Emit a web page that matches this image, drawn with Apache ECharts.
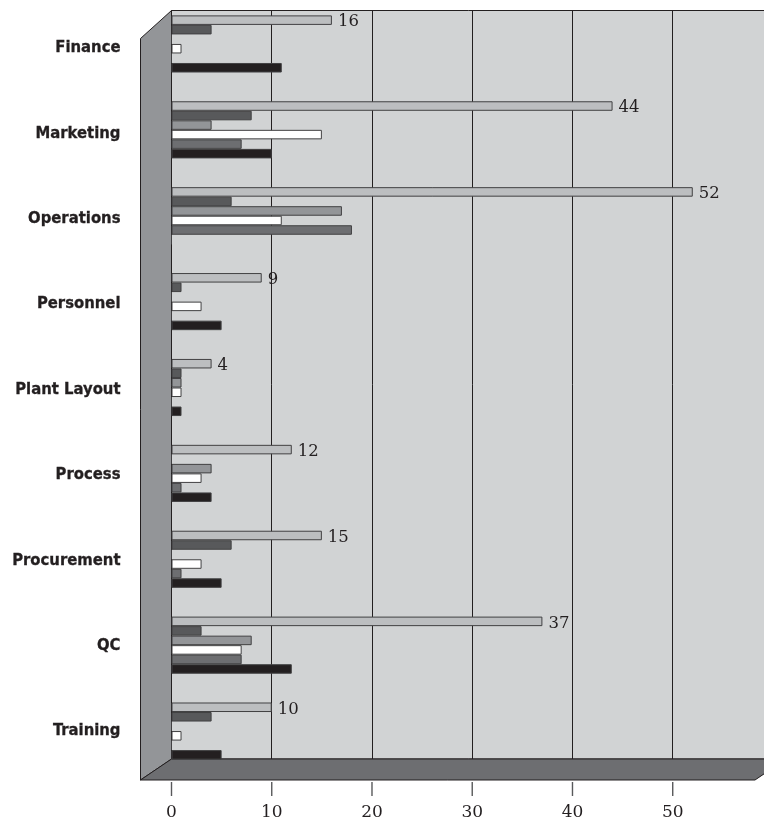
<!DOCTYPE html>
<html><head><meta charset="utf-8">
<style>html,body{margin:0;padding:0;background:#fff}#c{width:764px;height:819px}</style>
<script src="https://cdn.jsdelivr.net/npm/echarts@6/dist/echarts.min.js"></script>
</head><body><div id="c"></div>
<script>
const categories = ['Finance','Marketing','Operations','Personnel','Plant Layout','Process','Procurement','QC','Training'];
const seriesA = [16,44,52,9,4,12,15,37,10];
const seriesB = [4,8,6,1,1,0,6,3,4];
const seriesC = [0,4,17,0,1,4,0,8,0];
const seriesD = [1,15,11,3,1,3,3,7,1];
const seriesE = [0,7,18,0,0,1,1,7,0];
const seriesF = [11,10,0,5,1,4,5,12,5];
const tickValues = [0,10,20,30,40,50];
const colors = ['#bcbec0','#58595b','#939598','#ffffff','#6d6e71','#231f20'];
const allSeries = [seriesA,seriesB,seriesC,seriesD,seriesE,seriesF];
const xMin = 0, xMax = 61.3, xStep = 10;
const depthX = 31, depthTop = 28, depthBottom = 21;
const ink = '#231f20';
const chart = echarts.init(document.getElementById('c'), null, {renderer:'canvas'});
const free = {outerBoundsMode:'none', containLabel:false};
chart.setOption({
  animation:false,
  backgroundColor:'#ffffff',
  grid:[
    Object.assign({show:true, backgroundColor:'#d1d3d4', borderColor:ink, borderWidth:1, left:171.5, top:10.5, width:614.5, height:748.5}, free),
    Object.assign({show:false, left:171.5, top:1, width:614.5, height:773}, free),
    Object.assign({show:false, left:171.5, top:5.3, width:614.5, height:768.4}, free),
    Object.assign({show:false, left:171.5, top:10.5, width:614.5, height:771.5}, free),
    Object.assign({show:false, left:171.5, top:782, width:614.5, height:14}, free)
  ],
  xAxis:[
    {type:'value', gridIndex:0, min:xMin, max:xMax, interval:xStep,
     axisLine:{show:false}, axisTick:{show:false}, axisLabel:{show:false},
     splitLine:{show:true, showMaxLine:false, lineStyle:{color:ink, width:1}}},
    {type:'value', gridIndex:1, min:xMin, max:xMax, interval:xStep, show:false},
    {type:'value', gridIndex:2, min:xMin, max:xMax, interval:xStep, show:false},
    {type:'value', gridIndex:3, position:'bottom', min:xMin, max:xMax, interval:xStep,
     axisLine:{show:false}, splitLine:{show:false}, axisTick:{show:false},
     axisLabel:{show:true, margin:22, color:ink, fontFamily:'DejaVu Serif', fontSize:17,
       formatter:(v)=> tickValues.includes(v) ? String(v) : ''}},
    {type:'value', gridIndex:4, min:xMin, max:xMax, interval:xStep, show:false}
  ],
  yAxis:[
    {type:'category', gridIndex:0, inverse:true, data:categories, show:false},
    {type:'category', gridIndex:1, inverse:true, data:categories, show:false},
    {type:'category', gridIndex:2, inverse:true, data:categories,
     axisLine:{show:false}, axisTick:{show:false}, splitLine:{show:false},
     axisLabel:{show:true, margin:51, align:'right', color:ink, fontFamily:'DejaVu Sans Condensed, Roboto', fontWeight:'bold', fontSize:16.5, interval:0, textBorderColor:ink, textBorderWidth:0.3}},
    {type:'category', gridIndex:3, inverse:true, data:categories, show:false},
    {type:'value', gridIndex:4, min:0, max:1, show:false}
  ],
  series:[
    {type:'custom', xAxisIndex:0, yAxisIndex:0, z:1, clip:false, silent:true, data:[[0,0]],
     renderItem:(params, api)=>{
       const r = params.coordSys;
       const left = r.x, top = r.y, right = r.x + r.width, bottom = r.y + r.height;
       return {type:'group', children:[
         {type:'polygon', shape:{points:[[left,top],[left-depthX,top+depthTop],[left-depthX,bottom+depthBottom],[left,bottom]]},
          style:{fill:'#939598', stroke:ink, lineWidth:1}},
         {type:'polygon', shape:{points:[[left,bottom],[left-depthX,bottom+depthBottom],[right-depthX,bottom+depthBottom],[right,bottom]]},
          style:{fill:'#6d6e71', stroke:ink, lineWidth:1}}
       ]};
     }},
    {type:'scatter', xAxisIndex:4, yAxisIndex:4, z:10, zlevel:1, silent:true, clip:false,
     symbol:'rect', symbolSize:[1.4,14], itemStyle:{color:'#58595b', opacity:1},
     data:tickValues.map(v=>[v,0.5])},
    ...allSeries.map((values,i)=>({
      type:'bar', xAxisIndex:1, yAxisIndex:1, z:2, data:values,
      barGap:0, barCategoryGap:'33.5%',
      itemStyle:{color:colors[i], borderColor:'#414042', borderWidth:1},
      label: i===0 ? {show:true, position:'right', distance:6, offset:[0,2], color:ink, fontFamily:'DejaVu Serif', fontSize:16.5} : {show:false}
    }))
  ]
});
</script></body></html>
